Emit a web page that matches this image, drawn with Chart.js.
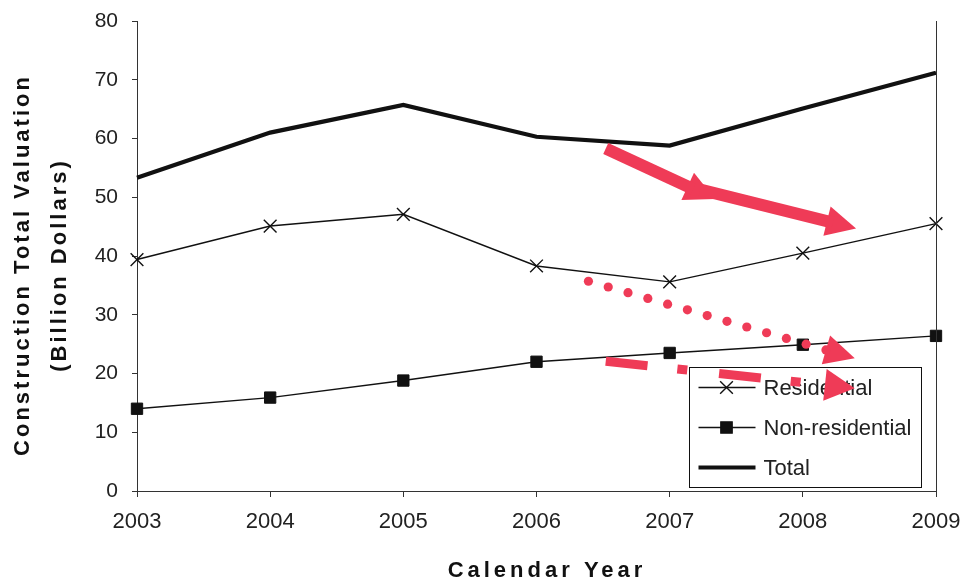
<!DOCTYPE html>
<html>
<head>
<meta charset="utf-8">
<title>Construction Total Valuation</title>
<script src="https://cdn.jsdelivr.net/npm/chart.js@4.4.1/dist/chart.umd.min.js"></script>
<style>
  html, body { margin: 0; padding: 0; background: #fff; }
  #wrap { width: 964px; height: 583px; }
</style>
</head>
<body>
<div id="wrap"><canvas id="chart" width="964" height="583"></canvas></div>
<script>
// values (billion dollars)
const years = [2003, 2004, 2005, 2006, 2007, 2008, 2009];
const residential = [39.4, 45.1, 47.1, 38.3, 35.6, 40.5, 45.5];
const nonResidential = [14.0, 15.9, 18.8, 22.0, 23.5, 24.9, 26.4];
const total = [53.3, 61.0, 65.7, 60.3, 58.8, 65.1, 71.2];
const yTicks = [0, 10, 20, 30, 40, 50, 60, 70, 80];

// the red hand-drawn arrows, as [year, value] pairs
const arrowSolidA = [[2006.52, 58.3], [2007.34, 49.7]];
const arrowSolidB = [[2007.23, 51.3], [2008.40, 44.7]];
const arrowDotted = [[2006.39, 35.7], [2008.39, 22.6]];
const arrowDashed = [[2006.52, 22.1], [2008.39, 17.5]];

const FONT = '"Liberation Sans", Arial, sans-serif';
const RED = '#ef3b57';
const INK = '#111';

function toPx(chart, p) {
    return [chart.scales.x.getPixelForValue(p[0]), chart.scales.y.getPixelForValue(p[1])];
}

function drawHead(ctx, x0, y0, x1, y1, len, half) {
    const a = Math.atan2(y1 - y0, x1 - x0);
    const bx = x1 - Math.cos(a) * len, by = y1 - Math.sin(a) * len;
    ctx.beginPath();
    ctx.moveTo(x1, y1);
    ctx.lineTo(bx + Math.sin(a) * half, by - Math.cos(a) * half);
    ctx.lineTo(bx - Math.sin(a) * half, by + Math.cos(a) * half);
    ctx.closePath();
    ctx.fill();
    return [bx, by];
}

// red arrows drawn on top of everything
const arrowPlugin = {
    id: 'arrows',
    afterDraw(chart) {
        const ctx = chart.ctx;
        ctx.save();
        ctx.fillStyle = RED;
        ctx.strokeStyle = RED;

        [arrowSolidA, arrowSolidB].forEach(function(arr) {
            const [x0, y0] = toPx(chart, arr[0]);
            const [x1, y1] = toPx(chart, arr[1]);
            const base = drawHead(ctx, x0, y0, x1, y1, 30, 15);
            ctx.lineWidth = 12;
            ctx.lineCap = 'butt';
            ctx.beginPath();
            ctx.moveTo(x0, y0);
            ctx.lineTo(base[0] + (x1 - base[0]) * 0.2, base[1] + (y1 - base[1]) * 0.2);
            ctx.stroke();
        });

        // dotted one
        let [x0, y0] = toPx(chart, arrowDotted[0]);
        let [x1, y1] = toPx(chart, arrowDotted[1]);
        let base = drawHead(ctx, x0, y0, x1, y1, 30, 15);
        const dist = Math.hypot(base[0] - x0, base[1] - y0);
        const n = Math.round(dist / 20.5);
        for (let i = 0; i <= n; i++) {
            const t = i / n;
            ctx.beginPath();
            ctx.arc(x0 + (base[0] - x0) * t, y0 + (base[1] - y0) * t, 4.6, 0, Math.PI * 2);
            ctx.fill();
        }

        // dash-dot one
        [x0, y0] = toPx(chart, arrowDashed[0]);
        [x1, y1] = toPx(chart, arrowDashed[1]);
        base = drawHead(ctx, x0, y0, x1, y1, 30, 16);
        ctx.lineWidth = 9;
        ctx.setLineDash([42, 30, 10, 32]);
        ctx.beginPath();
        ctx.moveTo(x0, y0);
        ctx.lineTo(base[0], base[1]);
        ctx.stroke();
        ctx.restore();
    }
};

// boxed legend in the lower right corner, right frame line and axis titles
const framePlugin = {
    id: 'frame',
    afterDatasetsDraw(chart) {
        const ctx = chart.ctx;
        const area = chart.chartArea;
        ctx.save();

        ctx.strokeStyle = '#333';
        ctx.lineWidth = 1;
        ctx.beginPath();
        ctx.moveTo(Math.round(area.right) + 0.5, area.top);
        ctx.lineTo(Math.round(area.right) + 0.5, area.bottom + 6);
        ctx.stroke();

        const bx = Math.round(area.right - 247) + 0.5;
        const by = Math.round(area.bottom - 124) + 0.5;
        ctx.fillStyle = '#fff';
        ctx.fillRect(bx, by, 232, 120);
        ctx.strokeStyle = INK;
        ctx.strokeRect(bx, by, 232, 120);

        chart.data.datasets.forEach(function(ds, i) {
            const y = by + 20 + i * 40;
            ctx.strokeStyle = INK;
            ctx.lineWidth = ds.borderWidth;
            ctx.beginPath();
            ctx.moveTo(bx + 9, y);
            ctx.lineTo(bx + 66, y);
            ctx.stroke();
            if (ds.pointRadius > 0) {
                ctx.lineWidth = 1.4;
                ctx.fillStyle = INK;
                Chart.helpers.drawPoint(ctx, { pointStyle: ds.pointStyle, radius: ds.pointRadius, borderWidth: 1.4 }, bx + 37, y);
            }
            ctx.fillStyle = '#222';
            ctx.font = '22px ' + FONT;
            ctx.textBaseline = 'middle';
            ctx.textAlign = 'left';
            ctx.fillText(ds.label, bx + 74, y + 1);
        });

        // axis titles, letter-spaced like the scan
        ctx.fillStyle = INK;
        ctx.font = 'bold 22px ' + FONT;
        ctx.letterSpacing = '4px';
        ctx.textAlign = 'center';
        ctx.textBaseline = 'alphabetic';
        ctx.fillText('Calendar Year', 547, 577);

        ctx.letterSpacing = '3px';
        ctx.translate(0, 265);
        ctx.rotate(-Math.PI / 2);
        ctx.fillText('Construction Total Valuation', 0, 29);
        ctx.fillText('(Billion Dollars)', 0, 66);
        ctx.restore();
    }
};

const ctx = document.getElementById('chart').getContext('2d');
new Chart(ctx, {
    type: 'line',
    data: {
        datasets: [
            { label: 'Residential', data: years.map((y, i) => ({ x: y, y: residential[i] })),
              borderColor: INK, borderWidth: 1.4, pointStyle: 'crossRot', pointRadius: 9,
              pointBorderColor: INK, pointBorderWidth: 1.4, clip: false },
            { label: 'Non-residential', data: years.map((y, i) => ({ x: y, y: nonResidential[i] })),
              borderColor: INK, borderWidth: 1.4, pointStyle: 'rect', pointRadius: 8,
              pointBackgroundColor: INK, pointBorderColor: INK, pointBorderWidth: 1, clip: false },
            { label: 'Total', data: years.map((y, i) => ({ x: y, y: total[i] })),
              borderColor: INK, borderWidth: 4.2, pointRadius: 0, clip: false }
        ]
    },
    options: {
        responsive: false,
        animation: false,
        layout: { padding: { top: 21, right: 28, left: 0, bottom: 0 } },
        plugins: { legend: { display: false }, tooltip: { enabled: false } },
        elements: { line: { tension: 0 } },
        scales: {
            x: {
                type: 'linear', min: years[0], max: years[years.length - 1],
                ticks: { stepSize: 1, autoSkip: false, maxRotation: 0, padding: 12, color: '#222',
                         font: { family: FONT, size: 22 }, callback: v => String(v) },
                grid: { drawOnChartArea: false, tickLength: 6, color: '#333' },
                border: { color: '#333', width: 1 },
                afterFit: s => { s.height = 92; s.paddingLeft = 0; s.paddingRight = 0; }
            },
            y: {
                min: yTicks[0], max: yTicks[yTicks.length - 1],
                afterBuildTicks: s => { s.ticks = yTicks.map(v => ({ value: v })); },
                ticks: { padding: 14, color: '#222', font: { family: FONT, size: 21 } },
                grid: { drawOnChartArea: false, tickLength: 5, color: '#333' },
                border: { color: '#333', width: 1 },
                afterFit: s => { s.width = 137; s.paddingTop = 0; s.paddingBottom = 0; }
            }
        }
    },
    plugins: [framePlugin, arrowPlugin]
});
</script>
</body>
</html>
